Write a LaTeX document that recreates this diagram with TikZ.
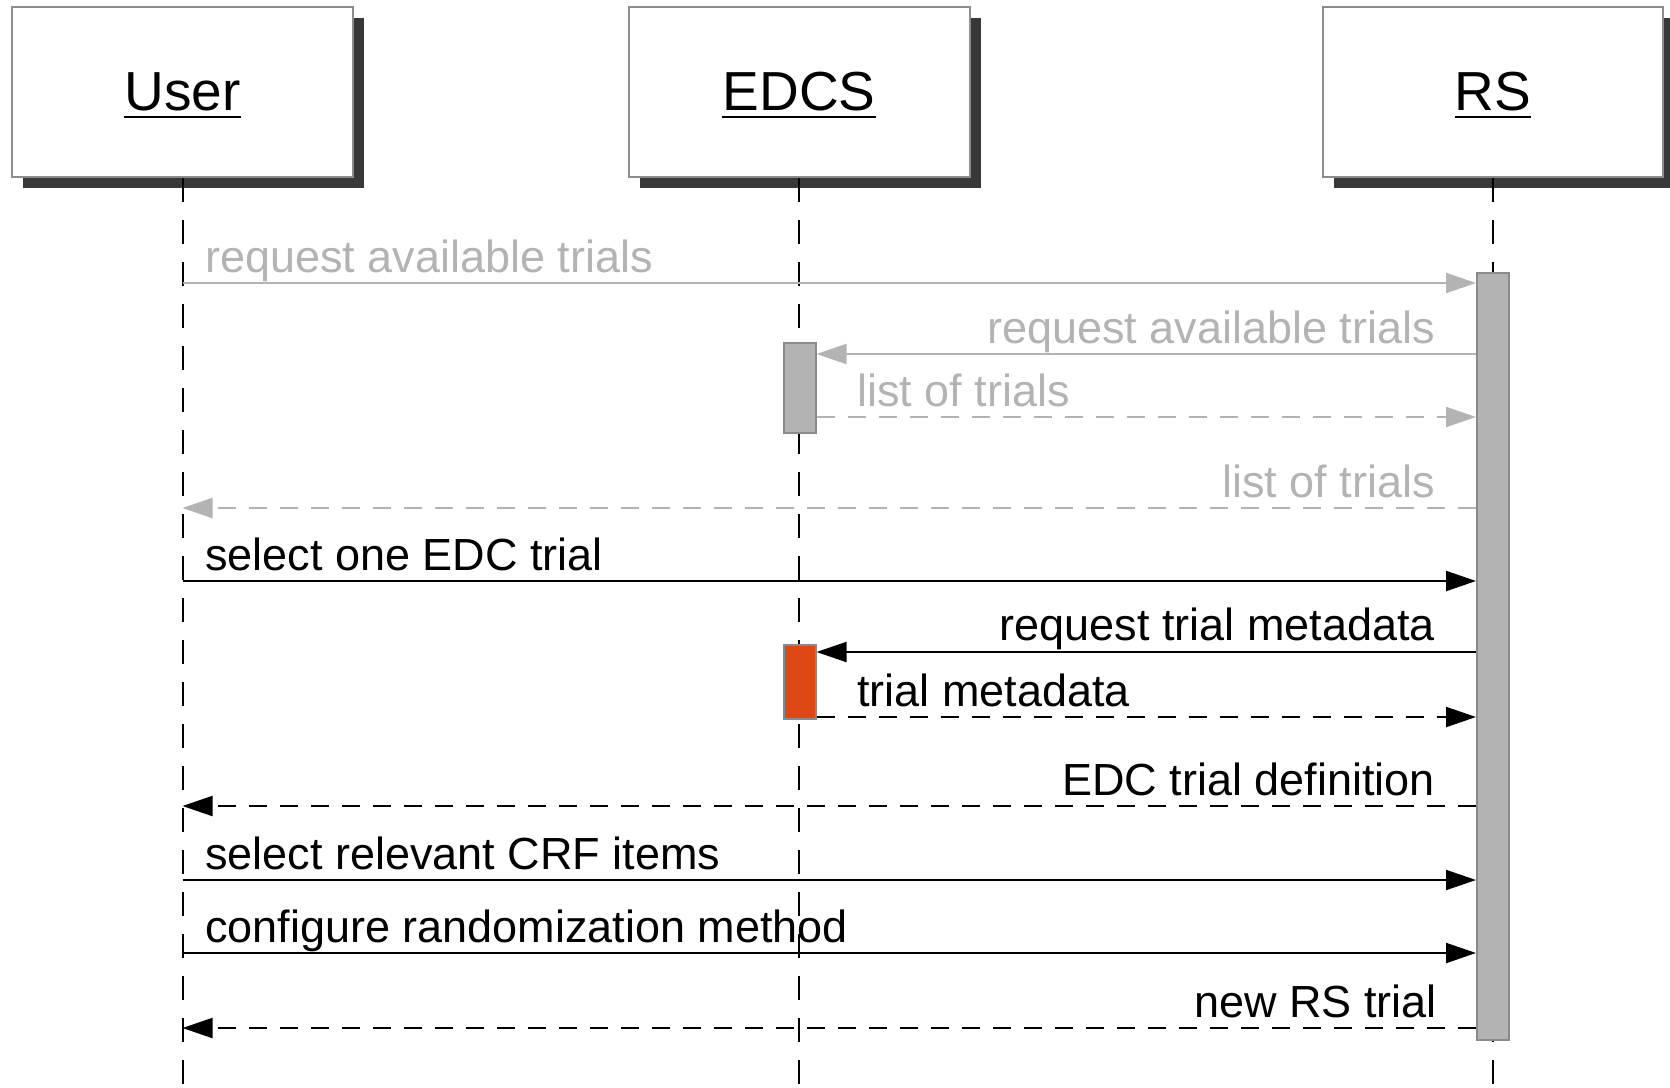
\documentclass[tikz,border=0pt]{standalone}
\usepackage{fontspec}
\setmainfont{Liberation Sans}
\usetikzlibrary{arrows.meta,shadows}

\definecolor{shadowgray}{HTML}{383838}
\definecolor{framegray}{HTML}{8C8C8C}
\definecolor{fadedgray}{HTML}{B3B3B3}
\definecolor{barfill}{HTML}{B3B3B3}
\definecolor{barframe}{HTML}{8A8A8A}
\definecolor{activeorange}{HTML}{DD4814}

\begin{document}
\begin{tikzpicture}[x=1pt,y=-1pt,
  actor/.style={draw=framegray, line width=2pt, fill=white, minimum width=341pt,
    minimum height=170pt, inner sep=0pt,
    general shadow={fill=shadowgray, draw=none, shadow xshift=11pt, shadow yshift=-11pt}},
  title/.style={font=\fontsize{55}{60}\selectfont, inner sep=0pt, anchor=base},
  titleline/.style={line width=2.2pt},
  lifeline/.style={draw=black, line width=2pt, dash pattern=on 24pt off 18pt},
  bar/.style={draw=barframe, line width=2pt, fill=barfill, minimum width=32pt, inner sep=0pt},
  msg/.style={line width=2pt, -{Triangle[length=30pt,width=20pt]}},
  reply/.style={msg, dash pattern=on 18pt off 13pt},
  fadedline/.style={draw=fadedgray},
  lbl/.style={font=\fontsize{45}{50}\selectfont, inner sep=0pt},
  fadedlbl/.style={lbl, text=fadedgray},
]
\useasboundingbox (0,0) rectangle (1670,1087);

% participants
\node[actor] (user) at (182.5,92) {};
\node[actor] (edcs) at (799,92) {};
\node[actor, minimum width=340pt] (rs) at (1493,92) {};

\node[title] (usertitle) at (182.5,110) {User};
\node[title] (edcstitle) at (799,110) {EDCS};
\node[title] (rstitle) at (1493,110) {RS};
\foreach \t in {usertitle,edcstitle,rstitle}
  \draw[titleline] ([yshift=-7pt]\t.base west) -- ([yshift=-7pt]\t.base east);

% lifelines
\coordinate (bottom) at (0,1087);
\draw[lifeline] (user.south) -- (user.south |- bottom);
\draw[lifeline] (edcs.south) -- (edcs.south |- bottom);
\draw[lifeline] (rs.south) -- (rs.south |- bottom);

% activations
\node[bar, minimum height=767pt] (rsact) at (1493,656.5) {};
\node[bar, minimum height=90pt] (edcsact1) at (799.5,388) {};
\node[bar, fill=activeorange, minimum height=74pt] (edcsact2) at (799.5,682) {};

% message rows
\coordinate (y1) at (0,283);
\coordinate (y2) at (0,354);
\coordinate (y3) at (0,417);
\coordinate (y4) at (0,508);
\coordinate (y5) at (0,581);
\coordinate (y6) at (0,652);
\coordinate (y7) at (0,717);
\coordinate (y8) at (0,806);
\coordinate (y9) at (0,880);
\coordinate (y10) at (0,953);
\coordinate (y11) at (0,1028);

% messages
\draw[msg, fadedline] (user.south |- y1) -- (rsact.west |- y1);
\node[fadedlbl, anchor=base west] (m1) at (205,272) {request available trials};

\draw[msg, fadedline] (rsact.west |- y2) -- (edcsact1.east |- y2);
\node[fadedlbl, anchor=base east] (m2) at (1435,343) {request available trials};

\draw[reply, fadedline] (edcsact1.east |- y3) -- (rsact.west |- y3);
\node[fadedlbl, anchor=base west] (m3) at (857,406) {list of trials};

\draw[reply, fadedline] (rsact.west |- y4) -- (user.south |- y4);
\node[fadedlbl, anchor=base east] (m4) at (1435,497) {list of trials};

\draw[msg] (user.south |- y5) -- (rsact.west |- y5);
\node[lbl, anchor=base west] (m5) at (205,570) {select one EDC trial};

\draw[msg] (rsact.west |- y6) -- (edcsact2.east |- y6);
\node[lbl, anchor=base east] (m6) at (1435,640) {request trial metadata};

\draw[reply] (edcsact2.east |- y7) -- (rsact.west |- y7);
\node[lbl, anchor=base west] (m7) at (857,706) {trial metadata};

\draw[reply] (rsact.west |- y8) -- (user.south |- y8);
\node[lbl, anchor=base east] (m8) at (1435,795) {EDC trial definition};

\draw[msg] (user.south |- y9) -- (rsact.west |- y9);
\node[lbl, anchor=base west] (m9) at (205,869) {select relevant CRF items};

\draw[msg] (user.south |- y10) -- (rsact.west |- y10);
\node[lbl, anchor=base west] (m10) at (205,942) {configure randomization method};

\draw[reply] (rsact.west |- y11) -- (user.south |- y11);
\node[lbl, anchor=base east] (m11) at (1437,1017) {new RS trial};
\end{tikzpicture}
\end{document}
